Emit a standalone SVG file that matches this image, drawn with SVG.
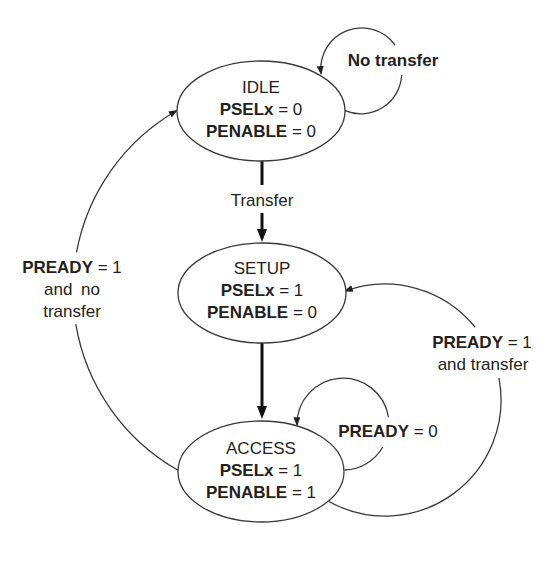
<svg xmlns="http://www.w3.org/2000/svg" width="548" height="567" viewBox="0 0 548 567">
<style>
  .bg { fill: #ffffff; }
  .state { fill: #ffffff; stroke: #3a3a3a; stroke-width: 1.3; }
  .t { font-family: "Liberation Sans", Arial, sans-serif; font-size: 17px; fill: #231f20; text-anchor: middle; }
  .b { font-weight: bold; }
  .thin { fill: none; stroke: #3a3a3a; stroke-width: 1.3; }
  .thick { fill: none; stroke: #111111; stroke-width: 3; }
</style>
<defs>
  <marker id="ahThick" markerUnits="userSpaceOnUse" viewBox="0 0 13 10" markerWidth="13" markerHeight="10" refX="3" refY="5" orient="auto">
    <path d="M0,0 L13,5 L0,10 z" fill="#111111"/>
  </marker>
  <marker id="ahThin" markerUnits="userSpaceOnUse" viewBox="0 0 9 7" markerWidth="9" markerHeight="7" refX="7.5" refY="3.5" orient="auto">
    <path d="M0,0 L9,3.5 L0,7 z" fill="#222222"/>
  </marker>
</defs>
<rect class="bg" x="0" y="0" width="548" height="567"/>

<g id="connectors">
  <!-- IDLE -> SETUP (Transfer) -->
  <path class="thick" d="M262,161 L262,185"/>
  <path class="thick" d="M262,213 L262,232" marker-end="url(#ahThick)"/>
  <!-- SETUP -> ACCESS -->
  <path class="thick" d="M262,343 L262,409" marker-end="url(#ahThick)"/>
  <!-- IDLE self loop: No transfer -->
  <path class="thin" d="M345,110.7 A41,41 0 0 0 401.7,75"/>
  <path class="thin" d="M395,45 A41,41 0 0 0 321,73.5" marker-end="url(#ahThin)"/>
  <!-- ACCESS self loop: PREADY = 0 -->
  <path class="thin" d="M344.6,470 A46,46 0 0 0 382.8,447"/>
  <path class="thin" d="M388.4,416.8 A46,46 0 0 0 297,424.8" marker-end="url(#ahThin)"/>
  <!-- ACCESS -> SETUP: PREADY = 1 and transfer -->
  <path class="thin" d="M328.8,501.5 A116,116 0 0 0 498.9,377.9"/>
  <path class="thin" d="M475,327 A116,116 0 0 0 345.3,291" marker-end="url(#ahThin)"/>
  <!-- ACCESS -> IDLE: PREADY = 1 and no transfer -->
  <path class="thin" d="M178.1,470.2 A207,207 0 0 1 75.8,324.2"/>
  <path class="thin" d="M76.5,252.3 A207,207 0 0 1 176.5,110.7" marker-end="url(#ahThin)"/>
</g>

<g id="labels">
  <text class="t" x="262" y="206">Transfer</text>
  <text class="t b" x="393" y="66">No transfer</text>
  <text class="t" x="388" y="437"><tspan class="b">PREADY</tspan> = 0</text>
  <text class="t" x="482" y="348"><tspan class="b">PREADY</tspan> = 1</text>
  <text class="t" x="483" y="370">and transfer</text>
  <text class="t" x="72" y="273"><tspan class="b">PREADY</tspan> = 1</text>
  <text class="t" x="72" y="295" style="word-spacing:4px">and no</text>
  <text class="t" x="72" y="317">transfer</text>
</g>

<g id="idle">
  <ellipse class="state" cx="261" cy="111" rx="84" ry="50"/>
  <text class="t" x="261" y="92.5">IDLE</text>
  <text class="t" x="261" y="114.5"><tspan class="b">PSELx</tspan> = 0</text>
  <text class="t" x="261" y="136.5"><tspan class="b">PENABLE</tspan> = 0</text>
</g>

<g id="setup">
  <ellipse class="state" cx="262" cy="293" rx="84" ry="50"/>
  <text class="t" x="262" y="274">SETUP</text>
  <text class="t" x="262" y="296"><tspan class="b">PSELx</tspan> = 1</text>
  <text class="t" x="262" y="318"><tspan class="b">PENABLE</tspan> = 0</text>
</g>

<g id="access">
  <ellipse class="state" cx="261" cy="471.5" rx="83" ry="50.5"/>
  <text class="t" x="261" y="454">ACCESS</text>
  <text class="t" x="261" y="476"><tspan class="b">PSELx</tspan> = 1</text>
  <text class="t" x="261" y="498"><tspan class="b">PENABLE</tspan> = 1</text>
</g>
</svg>
